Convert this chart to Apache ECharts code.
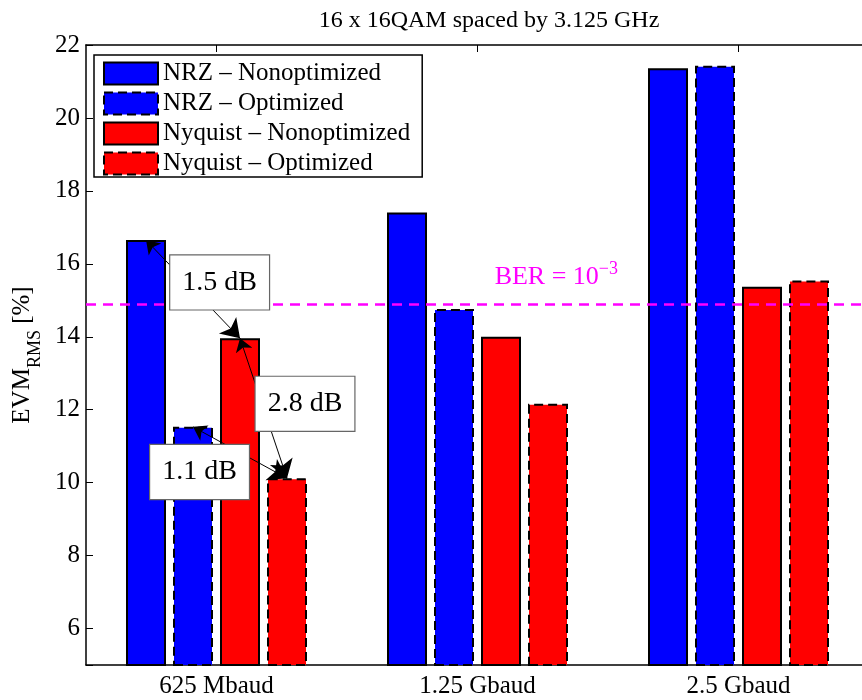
<!DOCTYPE html>
<html>
<head>
<meta charset="utf-8">
<script src="https://cdn.jsdelivr.net/npm/echarts@6/dist/echarts.min.js"></script>
<style>
  html, body { margin: 0; padding: 0; background: #fff; }
  #chart { width: 862px; height: 700px; }
</style>
</head>
<body>
<div id="chart"></div>
<script>
// EVM per symbol rate, four transmitter configurations
const categories = ['625 Mbaud', '1.25 Gbaud', '2.5 Gbaud'];
const seriesNames = ['NRZ \u2013 Nonoptimized', 'NRZ \u2013 Optimized', 'Nyquist \u2013 Nonoptimized', 'Nyquist \u2013 Optimized'];
const nrzNonopt = [16.65, 17.41, 21.36];
const nrzOpt = [11.53, 14.76, 21.43];
const nyqNonopt = [13.96, 14.0, 15.37];
const nyqOpt = [10.12, 12.16, 15.54];
const berLimit = 14.9;
const yTicksMin = 5, yTicksMax = 22;

// dB gains between bars: [category, series] endpoints and box centre (x in category units, y in %)
const gainNotes = [
  { text: '1.5 dB', from: [0, 0], to: [0, 2], box: [1.012, 15.49] },
  { text: '2.8 dB', from: [0, 2], to: [0, 3], box: [1.339, 12.16] },
  { text: '1.1 dB', from: [0, 1], to: [0, 3], box: [0.935, 10.29] }
];
const berLabelPos = [2.302, 15.64];

const FONT = '"Liberation Serif", "DejaVu Serif", serif';
const allValues = [nrzNonopt, nrzOpt, nyqNonopt, nyqOpt];
const colors = ['#0000ff', '#0000ff', '#ff0000', '#ff0000'];
const dashed = [false, true, false, true];
const DASH = [9, 5];

// bar geometry (px) used to place arrow tips over each bar centre
const BAR_W = 40, BAR_GAP = 7, CAT_PX = 261;
function barX(cat, s) {
  return cat + 1 + (s - 1.5) * (BAR_W + BAR_GAP) / CAT_PX;
}

const barSeries = allValues.map((vals, i) => ({
  name: seriesNames[i],
  type: 'bar',
  xAxisIndex: 0,
  yAxisIndex: 0,
  data: vals,
  barWidth: BAR_W,
  barGap: (BAR_GAP / BAR_W * 100) + '%',
  itemStyle: {
    color: colors[i],
    borderColor: '#000',
    borderWidth: 2,
    borderType: dashed[i] ? DASH : 'solid'
  },
  emphasis: { disabled: true },
  z: 2
}));

barSeries[0].markLine = {
  silent: true,
  symbol: 'none',
  label: { show: false },
  lineStyle: { color: '#ff00ff', width: 2.5, type: [10, 7] },
  data: [{ yAxis: berLimit }],
  z: 3
};

const arrowSeries = {
  type: 'lines',
  coordinateSystem: 'cartesian2d',
  xAxisIndex: 1,
  yAxisIndex: 0,
  symbol: ['arrow', 'arrow'],
  symbolSize: [13, 18],
  lineStyle: { color: '#000', width: 1, opacity: 1 },
  data: gainNotes.map(n => ({
    coords: [
      [barX(n.from[0], n.from[1]), allValues[n.from[1]][n.from[0]]],
      [barX(n.to[0], n.to[1]), allValues[n.to[1]][n.to[0]]]
    ]
  })),
  silent: true,
  z: 5
};

const boxSeries = {
  type: 'scatter',
  xAxisIndex: 1,
  yAxisIndex: 0,
  symbolSize: 0,
  silent: true,
  itemStyle: { opacity: 1 },
  data: gainNotes.map(n => ({ value: n.box, name: n.text })),
  label: {
    show: true,
    position: 'inside',
    formatter: p => p.name,
    fontFamily: FONT,
    fontSize: 28,
    color: '#000',
    opacity: 1,
    lineHeight: 32,
    backgroundColor: '#fff',
    borderColor: '#666',
    borderWidth: 1.2,
    padding: [11, 12, 11, 12]
  },
  z: 10
};

const berLabelSeries = {
  type: 'scatter',
  xAxisIndex: 1,
  yAxisIndex: 0,
  symbolSize: 0,
  silent: true,
  itemStyle: { opacity: 1 },
  data: [berLabelPos],
  label: {
    show: true,
    position: 'inside',
    opacity: 1,
    formatter: '{a|BER = 10}{s|\u22123}',
    rich: {
      a: { fontFamily: FONT, fontSize: 26, color: '#ff00ff', lineHeight: 34 },
      s: { fontFamily: FONT, fontSize: 18, color: '#ff00ff', lineHeight: 14, verticalAlign: 'top' }
    }
  },
  z: 10
};

const chart = echarts.init(document.getElementById('chart'), null, { renderer: 'canvas' });
chart.setOption({
  animation: false,
  backgroundColor: '#fff',
  title: {
    text: '16 x 16QAM spaced by 3.125 GHz',
    left: 484,
    top: 4,
    textAlign: 'center',
    textStyle: { fontFamily: FONT, fontSize: 24, fontWeight: 'normal', color: '#000' }
  },
  grid: { left: 86, top: 45, right: -7, bottom: 35, outerBoundsMode: 'none', containLabel: false },
  legend: {
    orient: 'vertical',
    left: 94,
    top: 55,
    data: seriesNames.map((n, i) => ({
      name: n,
      itemStyle: { color: colors[i], borderColor: '#000', borderWidth: 2, borderType: dashed[i] ? DASH : 'solid' }
    })),
    icon: 'rect',
    itemWidth: 54,
    itemHeight: 22,
    itemGap: 5,
    selectedMode: false,
    backgroundColor: '#fff',
    borderColor: '#000',
    borderWidth: 1.5,
    padding: [6, 12, 1, 9],
    textStyle: { fontFamily: FONT, fontSize: 25, color: '#000' },
    z: 20
  },
  xAxis: [
    {
      type: 'category',
      position: 'bottom',
      data: categories,
      axisLine: { lineStyle: { color: '#000', width: 1.5 } },
      axisTick: { inside: true, alignWithLabel: true, length: 7, lineStyle: { color: '#000' } },
      axisLabel: { fontFamily: FONT, fontSize: 25, color: '#000', margin: 9 },
      splitLine: { show: false }
    },
    {
      type: 'value',
      position: 'top',
      min: 0.5,
      max: 3.5,
      axisLine: { show: true, lineStyle: { color: '#000', width: 1.5 } },
      axisTick: { show: true, inside: true, length: 7, customValues: [1, 2, 3], lineStyle: { color: '#000' } },
      axisLabel: { show: false },
      splitLine: { show: false }
    }
  ],
  yAxis: {
    type: 'value',
    min: yTicksMin,
    max: yTicksMax,
    splitNumber: 8,
    axisLine: { show: true, lineStyle: { color: '#000', width: 1.5 } },
    axisTick: { show: true, inside: true, length: 7, lineStyle: { color: '#000' } },
    axisLabel: {
      fontFamily: FONT, fontSize: 25, color: '#000', margin: 6,
      formatter: v => (v === yTicksMin ? '' : String(v))
    },
    splitLine: { show: false },
    name: '{a|EVM}{b|RMS}{a| [%]}',
    nameLocation: 'middle',
    nameRotate: 90,
    nameGap: 42,
    nameTextStyle: {
      rich: {
        a: { fontFamily: FONT, fontSize: 25, color: '#000', lineHeight: 44 },
        b: { fontFamily: FONT, fontSize: 18, color: '#000', lineHeight: 18, verticalAlign: 'bottom' }
      }
    }
  },
  series: [...barSeries, arrowSeries, boxSeries, berLabelSeries]
});
</script>
</body>
</html>
